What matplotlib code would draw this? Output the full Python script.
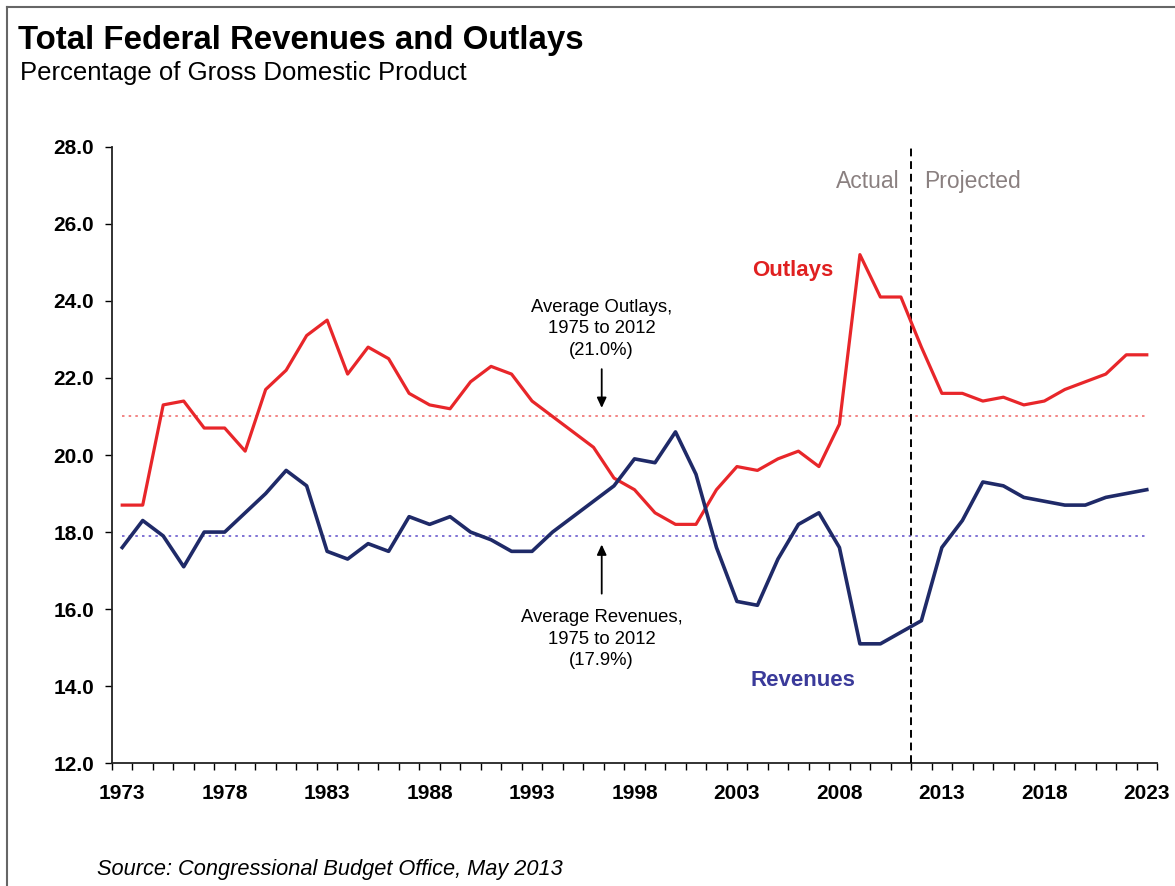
import numpy as np
import matplotlib
matplotlib.use("Agg")
import matplotlib.pyplot as plt
from matplotlib.lines import Line2D

plt.rcParams["font.family"] = ["Liberation Sans", "DejaVu Sans"]

# data (percent of GDP)
years = list(range(1973, 2024))
outlays = [18.7, 18.7, 21.3, 21.4, 20.7, 20.7, 20.1, 21.7, 22.2, 23.1,
           23.5, 22.1, 22.8, 22.5, 21.6, 21.3, 21.2, 21.9, 22.3, 22.1,
           21.4, 21.0, 20.6, 20.2, 19.4, 19.1, 18.5, 18.2, 18.2, 19.1,
           19.7, 19.6, 19.9, 20.1, 19.7, 20.8, 25.2, 24.1, 24.1, 22.8,
           21.6, 21.6, 21.4, 21.5, 21.3, 21.4, 21.7, 21.9, 22.1, 22.6,
           22.6]
revenues = [17.6, 18.3, 17.9, 17.1, 18.0, 18.0, 18.5, 19.0, 19.6, 19.2,
            17.5, 17.3, 17.7, 17.5, 18.4, 18.2, 18.4, 18.0, 17.8, 17.5,
            17.5, 18.0, 18.4, 18.8, 19.2, 19.9, 19.8, 20.6, 19.5, 17.6,
            16.2, 16.1, 17.3, 18.2, 18.5, 17.6, 15.1, 15.1, 15.4, 15.7,
            17.6, 18.3, 19.3, 19.2, 18.9, 18.8, 18.7, 18.7, 18.9, 19.0,
            19.1]
avg_outlays = 21.0
avg_revenues = 17.9
split_year = 2011.5
label_years = [1973, 1978, 1983, 1988, 1993, 1998, 2003, 2008, 2013, 2018, 2023]
y_ticks = [12, 14, 16, 18, 20, 22, 24, 26, 28]

red = "#e8262a"
navy = "#1f2a68"

fig = plt.figure(figsize=(11.75, 8.86), dpi=100)
ax = fig.add_axes([0.0953, 0.1385, 0.8894, 0.6959])

ax.plot(years, outlays, color=red, lw=2.3, zorder=4)
ax.plot(years, revenues, color=navy, lw=2.6, zorder=4)

ax.hlines(avg_outlays, years[0], years[-1], colors="#f07070", linestyles=(0, (1.5, 2.5)), lw=1.2, zorder=2)
ax.hlines(avg_revenues, years[0], years[-1], colors="#6a5acd", linestyles=(0, (1.5, 2.5)), lw=1.2, zorder=2)
ax.axvline(split_year, color="black", ls=(0, (4, 2.5)), lw=1.4, zorder=3)

ax.set_xlim(1972.5, 2023.5)
ax.set_ylim(12, 28)
ax.set_yticks(y_ticks)
ax.set_yticklabels([f"{v:.1f}" for v in y_ticks])
ax.set_xticks(label_years)
ax.set_xticks(np.arange(1972.5, 2024, 1), minor=True)
ax.tick_params(axis="x", which="major", length=0, pad=15, labelsize=15)
ax.tick_params(axis="x", which="minor", length=5, direction="out", width=1)
ax.tick_params(axis="y", length=5, direction="out", width=1, labelsize=15, pad=8)
for lab in ax.get_xticklabels() + ax.get_yticklabels():
    lab.set_fontweight("bold")

for s in ["top", "right"]:
    ax.spines[s].set_visible(False)
for s in ["left", "bottom"]:
    ax.spines[s].set_linewidth(1.3)
    ax.spines[s].set_color("#222222")

# labels and notes
ax.text(2005.7, 24.8, "Outlays", color="#e02020", fontsize=16, fontweight="bold", ha="center", va="center")
ax.text(2006.2, 14.15, "Revenues", color="#3a3a9a", fontsize=16, fontweight="bold", ha="center", va="center")
ax.text(2010.95, 27.11, "Actual", color="#8a8080", fontsize=16.5, ha="right", va="center")
ax.text(2012.15, 27.11, "Projected", color="#8a8080", fontsize=16.5, ha="left", va="center")

ax.text(1996.4, 23.28, "Average Outlays,\n1975 to 2012\n(21.0%)", fontsize=13.3, ha="center", va="center",
        linespacing=1.35)
ax.annotate("", xy=(1996.4, avg_outlays + 0.15), xytext=(1996.4, 22.3),
            arrowprops=dict(arrowstyle="-|>,head_width=0.28,head_length=0.6", color="black", lw=1.3))
ax.text(1996.4, 15.22, "Average Revenues,\n1975 to 2012\n(17.9%)", fontsize=13.3, ha="center", va="center",
        linespacing=1.35)
ax.annotate("", xy=(1996.4, avg_revenues - 0.15), xytext=(1996.4, 16.33),
            arrowprops=dict(arrowstyle="-|>,head_width=0.28,head_length=0.6", color="black", lw=1.3))

fig.text(18 / 1175, 1 - 41 / 886, "Total Federal Revenues and Outlays", fontsize=23.8, fontweight="bold",
         ha="left", va="center")
fig.text(20 / 1175, 1 - 73 / 886, "Percentage of Gross Domestic Product", fontsize=18.5,
         ha="left", va="center")
fig.text(97 / 1175, 1 - 870 / 886, "Source: Congressional Budget Office, May 2013", fontsize=15.7,
         style="italic", ha="left", va="center")

# frame on top and left
fig.add_artist(Line2D([7 / 1175, 1], [1 - 7 / 886, 1 - 7 / 886], color="#666666", lw=1.5))
fig.add_artist(Line2D([7 / 1175, 7 / 1175], [0, 1 - 7 / 886], color="#666666", lw=1.5))

fig.savefig("out.png", dpi=100)
